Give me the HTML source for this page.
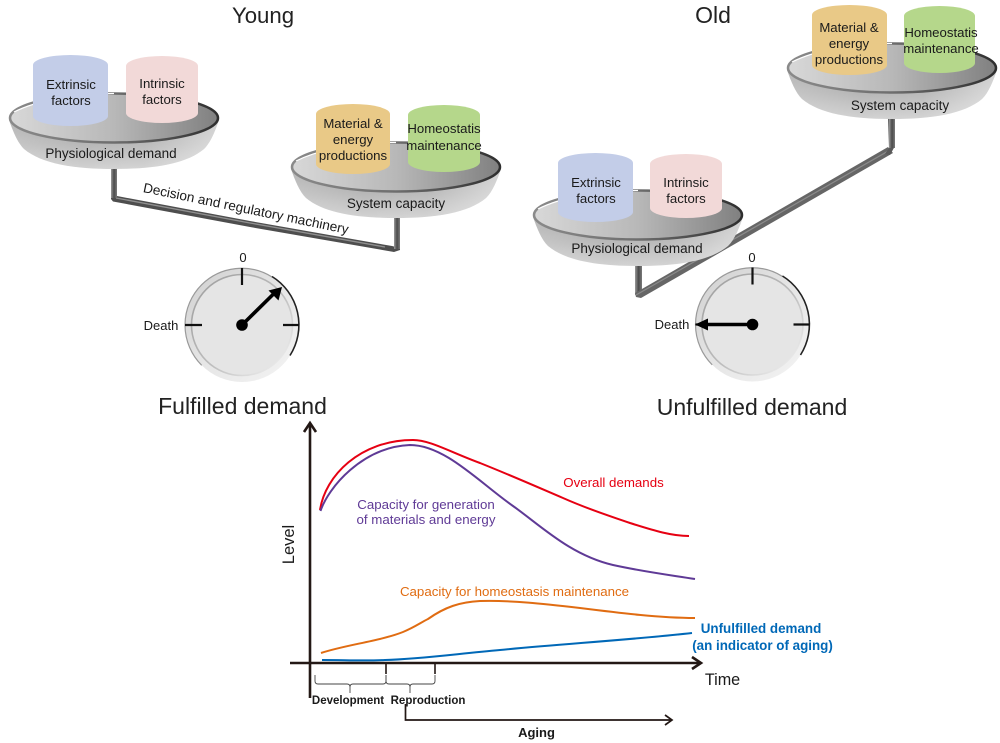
<!DOCTYPE html>
<html><head><meta charset="utf-8">
<style>
html,body{margin:0;padding:0;background:#fff;width:1000px;height:743px;overflow:hidden}
svg{display:block}
text{font-family:"Liberation Sans",Arial,sans-serif;fill:#1a1a1a;text-anchor:middle}
.c{font-size:13.2px}
.p{font-size:13.5px}
.y{font-size:13.5px}
.t{font-size:23px;fill:#222}
.s{font-size:13px}
.l{font-size:13.3px}
.b{font-size:13.4px;font-weight:bold;fill:#0068b7}
</style></head>
<body>
<svg width="1000" height="743" viewBox="0 0 1000 743" xmlns="http://www.w3.org/2000/svg">
<defs>
<linearGradient id="bowl" x1="0" y1="0" x2="0" y2="1"><stop offset="0" stop-color="#a2a2a2"/><stop offset=".5" stop-color="#b8b8b8"/><stop offset="1" stop-color="#d2d2d2"/></linearGradient>
<linearGradient id="bowlH" x1="0" y1="0" x2="1" y2="0"><stop offset="0" stop-color="#fff" stop-opacity=".22"/><stop offset=".35" stop-color="#fff" stop-opacity="0"/><stop offset=".65" stop-color="#fff" stop-opacity=".05"/><stop offset="1" stop-color="#fff" stop-opacity=".5"/></linearGradient>
<linearGradient id="inner" x1="0" y1="0" x2="1" y2="0"><stop offset="0" stop-color="#d8d8d8"/><stop offset=".5" stop-color="#b8b8b8"/><stop offset="1" stop-color="#808080"/></linearGradient>
<linearGradient id="rim" x1="0" y1="0" x2="1" y2="0"><stop offset="0" stop-color="#8a8a8a"/><stop offset=".5" stop-color="#6e6e6e"/><stop offset="1" stop-color="#2e2e2e"/></linearGradient>
<linearGradient id="bar" x1="0" y1="0" x2="1" y2="0"><stop offset="0" stop-color="#9a9a9a"/><stop offset=".5" stop-color="#4a4a4a"/><stop offset="1" stop-color="#7a7a7a"/></linearGradient>
<linearGradient id="ring" x1="0" y1="0" x2="1" y2="1"><stop offset="0" stop-color="#cfcfcf"/><stop offset=".5" stop-color="#e6e6e6"/><stop offset="1" stop-color="#f4f4f4"/></linearGradient>
<linearGradient id="ringS" x1="0" y1="0" x2="1" y2="1"><stop offset="0" stop-color="#9c9c9c"/><stop offset=".55" stop-color="#bdbdbd"/><stop offset="1" stop-color="#fafafa"/></linearGradient>
<g id="pan">
<path d="M-105,2 C-101,13 -97,24 -90,31 C-72,46 -40,51 0,51 C40,51 72,46 90,31 C97,24 101,13 105,2 Z" fill="url(#bowl)"/>
<path d="M-105,2 C-101,13 -97,24 -90,31 C-72,46 -40,51 0,51 C40,51 72,46 90,31 C97,24 101,13 105,2 Z" fill="url(#bowlH)"/>
<ellipse cx="0" cy="0" rx="104" ry="24.5" fill="url(#inner)" stroke="url(#rim)" stroke-width="2.5"/>
<path d="M-100,-6 C-70,-21 -30,-24 0,-24.5" fill="none" stroke="#fff" stroke-width="1.2"/>
</g>
<g id="gauge">
<circle r="57" fill="url(#ring)"/>
<path d="M-40.3,40.3 A57,57 0 0 1 -40.3,-40.3 A57,57 0 0 1 30,-48" fill="none" stroke="#9a9a9a" stroke-width="1.2"/>
<path d="M30,-48.500 A57,57 0 0 1 48,30.500" fill="none" stroke="#222" stroke-width="1.6"/>
<circle r="50.500" fill="#e5e5e5" stroke="url(#ringS)" stroke-width="1.6"/>
<path d="M0,-57 V-40 M-57,0 H-40 M41,0 H57" stroke="#111" stroke-width="2.2" fill="none"/>
<circle r="5.8" fill="#000"/>
</g>
</defs>

<text x="263" y="23" style="font-size:22.2px;fill:#222">Young</text>
<text x="713" y="23" style="font-size:23px;fill:#222">Old</text>

<!-- Young balance arm -->
<path d="M111,168 H117 V196 L250,221 L392,246 L400,248 V250 L394,252 L250,227 L113,201.500 L111,199 Z" fill="#4e4e4e"/>
<path d="M116,198 L250,223 L385,247" stroke="#909090" stroke-width="1.3" fill="none"/>
<rect x="111" y="168" width="6" height="30" fill="url(#bar)"/>
<rect x="394" y="218" width="6" height="31" fill="url(#bar)"/>

<!-- Old balance arm -->
<rect x="635" y="262" width="7" height="33" fill="url(#bar)"/>
<path d="M635,293 L888,147 L893,153 L641,298 L636,297 Z" fill="#666"/>
<path d="M636,295 L890,150" stroke="#8a8a8a" stroke-width="1.2" fill="none"/>
<path d="M888,118 H895 V146 L890,155 L885,154 L889,148 Z" fill="#5a5a5a"/>
<rect x="889" y="118" width="6" height="30" fill="url(#bar)"/>

<use href="#pan" x="114" y="118"/>
<use href="#pan" x="396" y="167"/>
<use href="#pan" x="638" y="215"/>
<use href="#pan" x="892" y="68"/>

<!-- Young demand -->
<path d="M33,65 A37.5,10 0 0 1 108,65 V116 A37.5,10 0 0 1 33,116 Z" fill="#c3cde8"/>
<path d="M126,66 A36,10 0 0 1 198,66 V113 A36,10 0 0 1 126,113 Z" fill="#f2d9d8"/>
<text class="c" x="71" y="89">Extrinsic</text><text class="c" x="71" y="105">factors</text>
<text class="c" x="162" y="88">Intrinsic</text><text class="c" x="162" y="104">factors</text>
<text class="p" x="111" y="158">Physiological demand</text>

<!-- Young capacity -->
<path d="M316,114 A37,10 0 0 1 390,114 V164 A37,10 0 0 1 316,164 Z" fill="#e9c987"/>
<path d="M408,115 A36,10 0 0 1 480,115 V162 A36,10 0 0 1 408,162 Z" fill="#b5d78b"/>
<text class="c" x="353" y="128">Material &amp;</text><text class="c" x="353" y="144">energy</text><text class="c" x="353" y="160">productions</text>
<text class="c" x="444" y="133">Homeostatis</text><text class="c" x="444" y="150">maintenance</text>
<text class="y" x="396" y="208">System capacity</text>

<!-- Old demand -->
<path d="M558,163 A37.5,10 0 0 1 633,163 V212 A37.5,10 0 0 1 558,212 Z" fill="#c3cde8"/>
<path d="M650,164 A36,10 0 0 1 722,164 V208 A36,10 0 0 1 650,208 Z" fill="#f2d9d8"/>
<text class="c" x="596" y="187">Extrinsic</text><text class="c" x="596" y="203">factors</text>
<text class="c" x="686" y="187">Intrinsic</text><text class="c" x="686" y="203">factors</text>
<text class="p" x="637" y="253">Physiological demand</text>

<!-- Old capacity -->
<path d="M812,15 A37.5,10 0 0 1 887,15 V65 A37.5,10 0 0 1 812,65 Z" fill="#e9c987"/>
<path d="M904,16 A35.5,10 0 0 1 975,16 V63 A35.5,10 0 0 1 904,63 Z" fill="#b5d78b"/>
<text class="c" x="849" y="32">Material &amp;</text><text class="c" x="849" y="48">energy</text><text class="c" x="849" y="64">productions</text>
<text class="c" x="941" y="37">Homeostatis</text><text class="c" x="941" y="53">maintenance</text>
<text class="y" x="900" y="110">System capacity</text>

<text style="font-size:13.6px" transform="translate(245,213) rotate(11.6)">Decision and regulatory machinery</text>

<!-- Gauges -->
<use href="#gauge" x="242" y="325"/>
<path d="M242,325 L274,293.500" stroke="#000" stroke-width="3.6" fill="none"/>
<path d="M282,287 L278.500,300.500 L268.500,290.500 Z" fill="#000"/>
<text class="s" x="243" y="262">0</text>
<text class="s" x="161" y="330">Death</text>
<text class="t" x="242.500" y="414">Fulfilled demand</text>

<use href="#gauge" x="752.500" y="324.500"/>
<path d="M752,324.500 H704" stroke="#000" stroke-width="3.6" fill="none"/>
<path d="M695,324.500 L708,318.500 L708,330.500 Z" fill="#000"/>
<text class="s" x="752" y="262">0</text>
<text class="s" x="672" y="329">Death</text>
<text class="t" x="752" y="415">Unfulfilled demand</text>

<!-- Chart -->
<path d="M310,424 V698" stroke="#231815" stroke-width="2.6" fill="none"/>
<path d="M304,432 L310,423 L316,432" stroke="#231815" stroke-width="2.6" fill="none"/>
<path d="M290,663 H701" stroke="#231815" stroke-width="2.6" fill="none"/>
<path d="M692,657 L701,663 L692,669" stroke="#231815" stroke-width="2.6" fill="none"/>
<text transform="translate(294,544.500) rotate(-90)" style="font-size:16.5px">Level</text>
<text x="722.500" y="685" style="font-size:16.2px">Time</text>

<path d="M320,510 C325,476 360,440 413,440 C430,440 450,452 480,463 C510,475 535,486 563,498 C590,510 610,516 630,523 C655,531 672,536 689,536" fill="none" stroke="#e60012" stroke-width="2"/>
<path d="M320.500,511 C328,488 362,447 410,445 C445,445 480,483 513,506 C540,525 570,555 613,565 C645,572 670,575 695,579" fill="none" stroke="#5f3a96" stroke-width="2"/>
<path d="M321,653 C345,645 380,641 403,632 C415,627 420,623 428,619 C445,607 460,602 480,601 C510,600 545,604 580,608 C620,613 660,618 695,618" fill="none" stroke="#e06c12" stroke-width="2"/>
<path d="M322,660 C345,660 365,661 385,660 C420,659 455,654 500,650 C560,644 630,640 692,633" fill="none" stroke="#0068b7" stroke-width="2"/>

<text x="613.500" y="487" class="l" style="fill:#e60012">Overall demands</text>
<text x="426" y="509" class="l" style="fill:#5f3a96">Capacity for generation</text>
<text x="426" y="524" class="l" style="fill:#5f3a96">of materials and energy</text>
<text x="514.500" y="596" class="l" style="fill:#e06c12">Capacity for homeostasis maintenance</text>
<text x="761" y="633" class="b">Unfulfilled demand</text>
<text x="762.500" y="650" class="b">(an indicator of aging)</text>

<path d="M386,663 V674 M435,663 V674" stroke="#231815" stroke-width="1.6" fill="none"/>
<g fill="none" stroke="#444" stroke-width=".9">
<path d="M315,675 V681 Q315,684 318,684 H347 Q350,684 350,687 V693 M350,687 Q350,684 353,684 H383 Q386,684 386,681 V675"/>
<path d="M386,675 V681 Q386,684 389,684 H407 Q410,684 410,687 V693 M410,687 Q410,684 413,684 H432 Q435,684 435,681 V675"/>
</g>
<text x="348" y="704" style="font-size:11.500px;font-weight:bold">Development</text>
<text x="428" y="704" style="font-size:11.500px;font-weight:bold">Reproduction</text>
<path d="M405.500,704 V720 H672" stroke="#231815" stroke-width="1.7" fill="none"/>
<path d="M665,715 L672,720 L665,725" stroke="#231815" stroke-width="1.7" fill="none"/>
<text x="536.500" y="737" style="font-size:13px;font-weight:bold">Aging</text>
</svg>
</body></html>
